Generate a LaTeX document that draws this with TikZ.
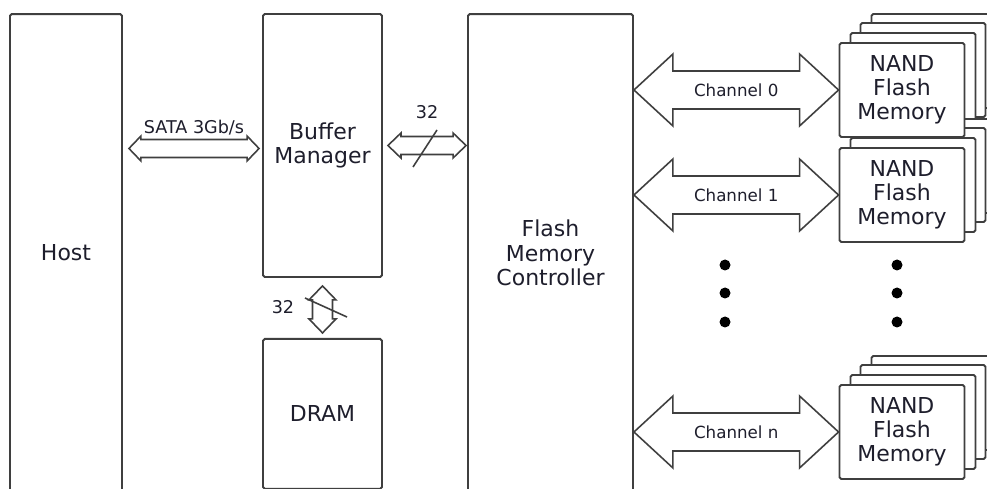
\documentclass[tikz,border=0pt]{standalone}
\usepackage{fontspec}
\setmainfont{DejaVu Sans}
\usetikzlibrary{positioning,calc}
\definecolor{edge}{HTML}{3F3F3F}
\definecolor{ink}{HTML}{1E1E2C}

% hollow double arrows: from, to, half shaft, half head, head length
\newcommand\harrow[5]{%
  \draw[fat] (#1) -- ++(#5,-#4) -- ++(0,#4-#3) -- ($(#2)+(-#5,-#3)$) -- ++(0,#3-#4)
    -- (#2) -- ++(-#5,#4) -- ++(0,#3-#4) -- ($(#1)+(#5,#3)$) -- ++(0,#4-#3) -- cycle;}
\newcommand\varrow[5]{%
  \draw[fat] (#1) -- ++(-#4,#5) -- ++(#4-#3,0) -- ($(#2)+(-#3,-#5)$) -- ++(#3-#4,0)
    -- (#2) -- ++(#4,-#5) -- ++(#3-#4,0) -- ($(#1)+(#3,#5)$) -- ++(#4-#3,0) -- cycle;}

\begin{document}
\begin{tikzpicture}[x=0.02cm,y=-0.02cm,
  blk/.style={draw=edge,line width=1.1pt,fill=white,rounded corners=1pt,align=center,
    text=ink,inner sep=0pt,font=\fontsize{12.5}{14}\selectfont},
  nand/.style={blk,minimum width=2.5cm,minimum height=1.88cm,
    font=\fontsize{12.5}{13.6}\selectfont},
  fat/.style={draw=edge,line width=0.9pt,fill=white,line join=miter},
  lab/.style={text=ink,inner sep=0pt,font=\fontsize{10}{12}\selectfont},
  chlab/.style={lab,font=\fontsize{9.5}{11}\selectfont}]
\path[use as bounding box,fill=white] (0,0) rectangle (987,489);
\clip (0,0) rectangle (987,489);

\node[blk,minimum width=2.24cm,minimum height=9.56cm] (host) at (66,253) {Host};
\node[blk,minimum width=2.38cm,minimum height=5.26cm] (bm) at (322.5,145.5) {Buffer\\Manager};
\node[blk,minimum width=2.38cm,minimum height=3cm,below=1.2cm of bm] (dram) {DRAM};
\node[blk,minimum width=3.3cm,minimum height=9.56cm] (fmc) at (550.5,253)
  {Flash\\Memory\\Controller};

% NAND stacks, back sheets first
\foreach \n/\y in {0/90,1/195,n/432}
  \foreach \k/\dx/\dy in {3/32/-29,2/21/-20,1/11/-10}
    \node[nand] (nand\n b\k) at (902+\dx,\y+\dy) {};
\foreach \n/\y in {0/90,1/195,n/432}
  \node[nand] (nand\n) at (902,\y) {NAND\\Flash\\Memory};

% host link
\coordinate (sataL) at ($(host.east |- bm.west)+(6,3)$);
\coordinate (sataR) at ($(bm.west)+(-3,3)$);
\harrow{sataL}{sataR}{9}{12.5}{12}
\node[lab] (sata) at ($(sataL)!0.5!(sataR)+(0,-21)$) {SATA 3Gb/s};

% 32-bit buses
\coordinate (busL) at ($(bm.east)+(5,0)$);
\coordinate (busR) at ($(fmc.west |- bm.east)+(-1,0)$);
\harrow{busL}{busR}{9}{12.5}{13}
\draw[edge,line width=0.9pt] (413,167) -- (437,130);
\node[lab] (bw1) at (427,112) {32};
\coordinate (memT) at ($(bm.south)+(0,8)$);
\coordinate (memB) at ($(dram.north)+(0,-5)$);
\varrow{memT}{memB}{10}{13.5}{14}
\draw[edge,line width=0.9pt] (305,298) -- (347,317);
\node[lab] (bw2) at (283,307) {32};

% channels
\foreach \n/\t in {0/Channel 0,1/Channel 1,n/Channel n} {
  \coordinate (ch\n) at (fmc.east |- nand\n.west);
  \harrow{ch\n}{nand\n.west}{19}{36}{39}
  \node[chlab] (lab\n) at ($(ch\n)!0.5!(nand\n.west)$) {\t};
}

% more channels
\foreach \y in {265,293,322} {
  \fill[black] (725,\y) circle (0.11cm);
  \fill[black] (897,\y) circle (0.11cm);
}
\end{tikzpicture}
\end{document}
